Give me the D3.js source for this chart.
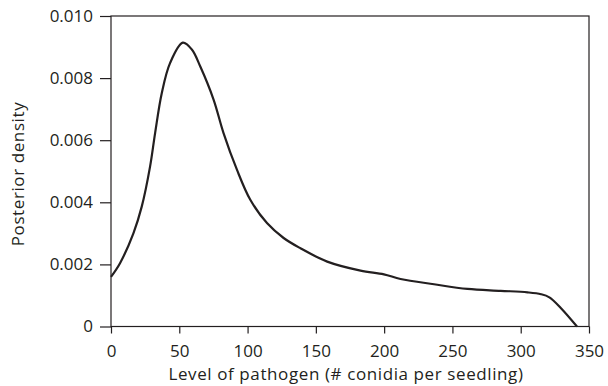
<!DOCTYPE html>
<html>
<head>
<meta charset="utf-8">
<script src="https://cdn.jsdelivr.net/npm/d3@7"></script>
<style>
  body { margin: 0; background: #fff; }
  svg { display: block; }
  .axis text { font-family: "Open Sans", sans-serif; font-size: 17px; fill: #231f20; }
  .title { font-family: "Open Sans", sans-serif; font-size: 17px; fill: #231f20; letter-spacing: 0.6px; }
</style>
</head>
<body>
<svg id="chart" width="608" height="386"></svg>
<script>
// level of pathogen (# conidia per seedling)
const levels = [0, 6.6, 16.4, 22.5, 28.6, 32.3, 37.2, 43.3, 52.6, 59.2, 65.3, 75.1, 82.4, 92.2,
  102, 114.2, 126.4, 138.7, 158.3, 182.7, 199.8, 212, 236.5, 261, 285.4, 305, 314.9, 321, 329.5, 341.2];
// posterior density
const density = [0.0016, 0.00204, 0.0030, 0.00386, 0.00515, 0.00623, 0.00752, 0.00849, 0.00914, 0.00892,
  0.00838, 0.00731, 0.00623, 0.00505, 0.00408, 0.00333, 0.00285, 0.00252, 0.00209, 0.0018, 0.00168,
  0.00153, 0.00136, 0.00121, 0.00115, 0.0011, 0.00104, 0.00094, 0.00059, 0];

const xTicks = [0, 50, 100, 150, 200, 250, 300, 350];
const yTicks = [0, 0.002, 0.004, 0.006, 0.008, 0.010];
const yTickLabels = ['0', '0.002', '0.004', '0.006', '0.008', '0.010'];

const svg = d3.select('#chart');
const m = { left: 111, right: 589, top: 16, bottom: 326.5 };

const x = d3.scaleLinear().domain([0, 350]).range([m.left, m.right]);
const y = d3.scaleLinear().domain([0, 0.010]).range([m.bottom, m.top]);

const ink = '#231f20';

// frame
svg.append('rect')
  .attr('x', m.left).attr('y', m.top)
  .attr('width', m.right - m.left).attr('height', m.bottom - m.top)
  .attr('fill', 'none').attr('stroke', ink).attr('stroke-width', 1.2);

const xAxis = svg.append('g')
  .attr('class', 'axis')
  .attr('transform', `translate(0,${m.bottom})`)
  .call(d3.axisBottom(x).tickValues(xTicks).tickSize(7).tickPadding(11).tickFormat(d3.format('d')));

const yAxis = svg.append('g')
  .attr('class', 'axis')
  .attr('transform', `translate(${m.left},0)`)
  .call(d3.axisLeft(y).tickValues(yTicks).tickSize(11).tickPadding(7)
    .tickFormat((d, i) => yTickLabels[i]));

[xAxis, yAxis].forEach(a => {
  a.select('.domain').remove();
  a.selectAll('line').attr('stroke', ink).attr('stroke-width', 1.2);
});

// curve
const pts = levels.map((v, i) => [v, density[i]]);
svg.append('path')
  .datum(pts)
  .attr('fill', 'none')
  .attr('stroke', ink)
  .attr('stroke-width', 2.2)
  .attr('d', d3.line().x(d => x(d[0])).y(d => y(d[1])).curve(d3.curveCatmullRom.alpha(0.5)));

// titles
svg.append('text')
  .attr('class', 'title')
  .attr('x', 346)
  .attr('y', 380)
  .attr('text-anchor', 'middle')
  .text('Level of pathogen (# conidia per seedling)');

svg.append('text')
  .attr('class', 'title')
  .attr('transform', 'translate(24,174) rotate(-90)')
  .attr('text-anchor', 'middle')
  .text('Posterior density');
</script>
</body>
</html>
